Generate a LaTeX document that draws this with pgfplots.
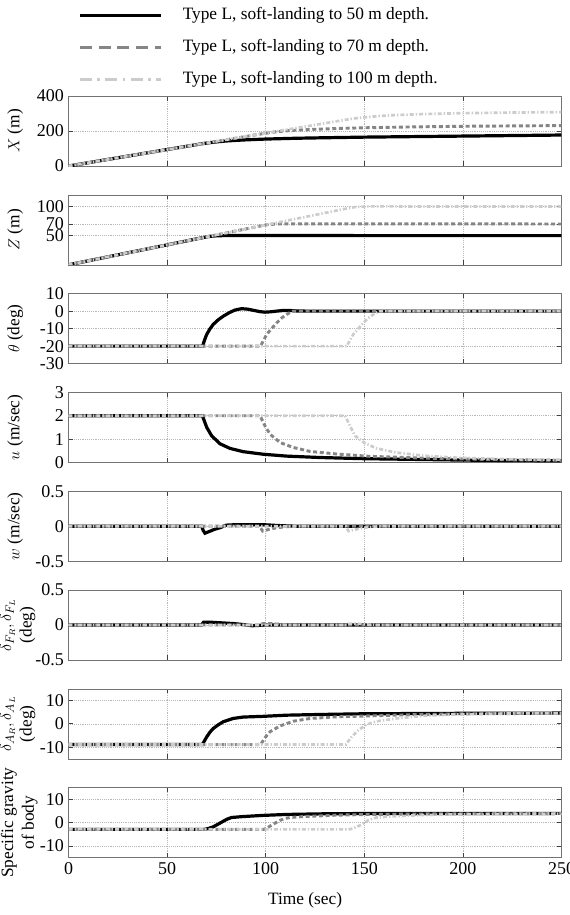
\documentclass[border=0pt]{standalone}
\usepackage{pgfplots}
\pgfplotsset{compat=1.18}
\usepackage{fontspec}
\setmainfont{Liberation Serif}

\definecolor{c70}{gray}{0.52}
\definecolor{c100}{gray}{0.80}

\pgfplotsset{
  panel/.style={
    scale only axis, width=369.75pt, height=52.5pt,
    anchor=north west,
    xmin=0, xmax=250, xtick={0,50,...,250}, xticklabels={},
    grid=major, grid style={densely dotted, black!28},
    axis line style={black!55}, tick style={black!75, line width=0.5pt},
    major tick length=3.5pt, tick align=inside,
    tick label style={font=\fontsize{13.5}{15.5}\selectfont},
    label style={font=\fontsize{13}{15.5}\selectfont},
    ylabel style={at={(axis description cs:-0.108,0.5)}, anchor=center, align=center},
    /pgf/number format/assume math mode=true,
  },
  twoline/.style={ylabel style={at={(axis description cs:-0.103,0.5)}}},
  s50/.style={black, line width=2.4pt},
  s70/.style={c70, line width=2.2pt, dash pattern=on 3pt off 2pt},
  s100/.style={c100, line width=2pt, dash pattern=on 3pt off 1.5pt on 1pt off 1.5pt},
}

\begin{document}
\begin{tikzpicture}
\useasboundingbox (0pt,0pt) rectangle (426.75pt,-686.25pt);

% ---------------- X position ----------------
\begin{axis}[panel, at={(51.375pt,-72pt)},
  ymin=0, ymax=400, ytick={0,200,400}, ylabel={$X$ (m)},
  legend style={at={(axis description cs:0,1)}, anchor=north west,
    xshift=7.1pt, yshift=66.75pt, draw=none, fill=none, inner sep=0pt,
    row sep=12pt, cells={anchor=west},
    nodes={inner sep=0pt, text height=9pt, text depth=3pt,
      font=\fontsize{13}{15}\selectfont}},
  legend image code/.code={\draw[#1] (0pt,0pt) -- (61.2pt,0pt); \path (76pt,0pt);},
]
\addlegendimage{black, line width=2.4pt}
\addlegendentry{Type L, soft-landing to 50 m depth.}
\addlegendimage{c70, line width=2.4pt, dash pattern=on 9pt off 5pt}
\addlegendentry{Type L, soft-landing to 70 m depth.}
\addlegendimage{c100, line width=2.4pt, dash pattern=on 9pt off 4pt on 2pt off 4pt}
\addlegendentry{Type L, soft-landing to 100 m depth.}
\addplot[s50, forget plot] coordinates {(0,0) (68,128) (72,134) (76,139) (80,143) (85,146.5) (90,149.5) (100,154) (115,158.5) (130,161.5) (150,165) (175,168) (200,171) (225,174) (250,177)};
\addplot[s70, forget plot] coordinates {(0,0) (97,182) (101,189) (105,195) (110,200.5) (115,204.5) (125,210) (140,215.5) (150,218.5) (175,223.5) (200,227) (225,229) (250,231)};
\addplot[s100, forget plot] coordinates {(0,0) (141,265) (145,272) (150,278) (157,285) (165,290.5) (180,297) (200,302) (225,305.5) (250,308)};
\end{axis}

% ---------------- Z depth ----------------
\begin{axis}[panel, at={(51.375pt,-146.1pt)},
  ymin=0, ymax=120, ytick={50,70,100}, ylabel={$Z$ (m)}]
\addplot[s50] coordinates {(0,0) (68,46.5) (70,47.9) (72,48.9) (75,49.7) (80,50.2) (90,50.3) (100,50.1) (250,50)};
\addplot[s70] coordinates {(0,0) (97,66.3) (99,67.7) (101,68.7) (104,69.6) (108,70.1) (120,70.1) (250,70)};
\addplot[s100] coordinates {(0,0) (141,96.4) (143,97.8) (145,98.8) (148,99.6) (152,100.1) (165,100.1) (250,100)};
\end{axis}

% ---------------- pitch angle ----------------
\begin{axis}[panel, at={(51.375pt,-220.2pt)},
  ymin=-30, ymax=10, ytick={-30,-20,-10,0,10}, ylabel={$\theta$ (deg)}]
\addplot[s50] coordinates {(0,-20) (68,-20) (69,-16.5) (70.1,-13.3) (71.7,-10.2) (73.4,-7.6) (76,-4.9) (78.5,-2.9) (81.5,-0.9) (84.4,0.6) (87.8,1.4) (91,1.1) (94,0.4) (97,-0.3) (99.6,-0.6) (102.5,-0.4) (105.6,0) (108.5,0.3) (111.5,0.4) (115.8,0.1) (120,0) (250,0)};
\addplot[s70] coordinates {(0,-20) (97.4,-20) (100.5,-13.3) (103,-10) (105.6,-6.7) (108,-4) (110.6,-1.9) (112.5,-0.7) (114,0) (250,0)};
\addplot[s100] coordinates {(0,-20) (141.1,-20) (144.4,-13.3) (147,-10) (149.5,-6.7) (152,-4) (154.6,-1.9) (156.5,-0.7) (158,0) (250,0)};
\end{axis}

% ---------------- surge velocity ----------------
\begin{axis}[panel, at={(51.375pt,-294.3pt)},
  ymin=0, ymax=3, ytick={0,1,2,3}, ylabel={$u$ (m/sec)}]
\addplot[s50] coordinates {(0,2) (67.9,2) (69,1.75) (70.1,1.5) (72.6,1.14) (76.8,0.80) (81.9,0.60) (88.6,0.46) (98.8,0.35) (110.6,0.27) (127.5,0.21) (149.5,0.16) (175,0.13) (200,0.1) (225,0.08) (250,0.07)};
\addplot[s70] coordinates {(0,2) (97.1,2) (98.3,1.8) (99.6,1.57) (102.2,1.21) (107.3,0.85) (114,0.64) (122.5,0.47) (136,0.36) (152.9,0.26) (178.2,0.19) (203.6,0.14) (227.3,0.11) (250,0.09)};
\addplot[s100] coordinates {(0,2) (140.2,2) (141.4,1.8) (142.7,1.57) (145.3,1.14) (150.4,0.82) (156.3,0.60) (166.4,0.42) (179.9,0.29) (195.1,0.21) (212.1,0.16) (227.3,0.13) (250,0.11)};
\end{axis}

% ---------------- heave velocity ----------------
\begin{axis}[panel, at={(51.375pt,-368.4pt)},
  ymin=-0.5, ymax=0.5, ytick={-0.5,0,0.5}, ylabel={$w$ (m/sec)}]
\addplot[s50] coordinates {(0,0) (67.5,0) (68.3,-0.06) (69.2,-0.10) (71,-0.08) (74,-0.045) (77,-0.02) (80,0.015) (85,0.022) (100,0.02) (106,0.01) (115,0) (250,0)};
\addplot[s70] coordinates {(0,0) (96.8,0) (98.5,-0.07) (101,-0.05) (105,-0.025) (110,-0.008) (116,0) (250,0)};
\addplot[s100] coordinates {(0,0) (140.5,0) (142,-0.07) (145,-0.05) (149,-0.025) (154,-0.008) (160,0) (250,0)};
\end{axis}

% ---------------- fore fins ----------------
\begin{axis}[panel, twoline, at={(51.375pt,-442.5pt)},
  ymin=-0.5, ymax=0.5, ytick={-0.5,0,0.5},
  ylabel={$\delta_{F_R},\delta_{F_L}$\\(deg)}]
\addplot[s50] coordinates {(0,0) (67.5,0) (68.5,0.04) (72,0.04) (78,0.03) (84,0.02) (89,0.005) (93,-0.01) (97,-0.005) (100,0) (250,0)};
\addplot[s70] coordinates {(0,0) (97,0) (98.5,0.02) (103,0.02) (108,0.008) (113,0) (250,0)};
\addplot[s100] coordinates {(0,0) (141,0) (142.5,0.02) (147,0.018) (152,0.006) (157,0) (250,0)};
\end{axis}

% ---------------- aft fins ----------------
\begin{axis}[panel, twoline, at={(51.375pt,-516.6pt)},
  ymin=-15, ymax=15, ytick={-10,0,10},
  ylabel={$\delta_{A_R},\delta_{A_L}$\\(deg)}]
\addplot[s50] coordinates {(0,-8.9) (67.9,-8.9) (69,-7.2) (70.1,-5.6) (71.7,-3.6) (73.4,-2.0) (76,-0.4) (78.5,0.9) (83.5,2.3) (88.6,2.9) (98.8,3.2) (110.6,3.7) (127.5,4.0) (149.5,4.3) (200,4.5) (250,4.6)};
\addplot[s70] coordinates {(0,-8.9) (97.4,-8.9) (98.5,-7.5) (99.6,-6.0) (102.2,-3.4) (107.3,-0.9) (114,1.1) (122.5,2.3) (136,3.0) (152.9,3.4) (178.2,4.0) (203.6,4.3) (250,4.5)};
\addplot[s100] coordinates {(0,-8.9) (140.7,-8.9) (142,-7.3) (143.6,-5.6) (147,-2.7) (151.2,-0.3) (156.3,1.1) (166.4,2.3) (179.9,3.4) (195.1,4.0) (227.3,4.5) (250,4.5)};
\end{axis}

% ---------------- specific gravity ----------------
\begin{axis}[panel, twoline, at={(51.375pt,-590.7pt)},
  ymin=-15, ymax=15, ytick={-10,0,10},
  xticklabels={0,50,100,150,200,250},
  ylabel={Specific gravity\\of body},
  ylabel style={at={(axis description cs:-0.1,0.5)}},
  xlabel={Time (sec)},
  xlabel style={at={(axis description cs:0.48,-0.606)}, anchor=center}]
\addplot[s50] coordinates {(0,-2.9) (69,-2.9) (71,-2.5) (73.4,-1.8) (76,-0.6) (78.5,0.6) (80.5,1.5) (82.7,2.2) (88.6,2.6) (98.8,3.1) (110.6,3.5) (127.5,3.75) (149.5,3.9) (250,3.95)};
\addplot[s70] coordinates {(0,-2.9) (99,-2.9) (100.5,-2.4) (102.2,-1.5) (105,-0.1) (107.3,1.0) (110,1.8) (112.4,2.2) (119.2,2.6) (136,3.2) (152.9,3.5) (186.7,3.75) (250,3.9)};
\addplot[s100] coordinates {(0,-2.9) (142,-2.9) (144,-2.6) (147,-1.5) (150,-0.2) (152,1.0) (154.5,1.8) (156.3,2.2) (163,2.6) (178.2,3.2) (195.1,3.5) (227.3,3.75) (250,3.8)};
\end{axis}
\end{tikzpicture}
\end{document}
